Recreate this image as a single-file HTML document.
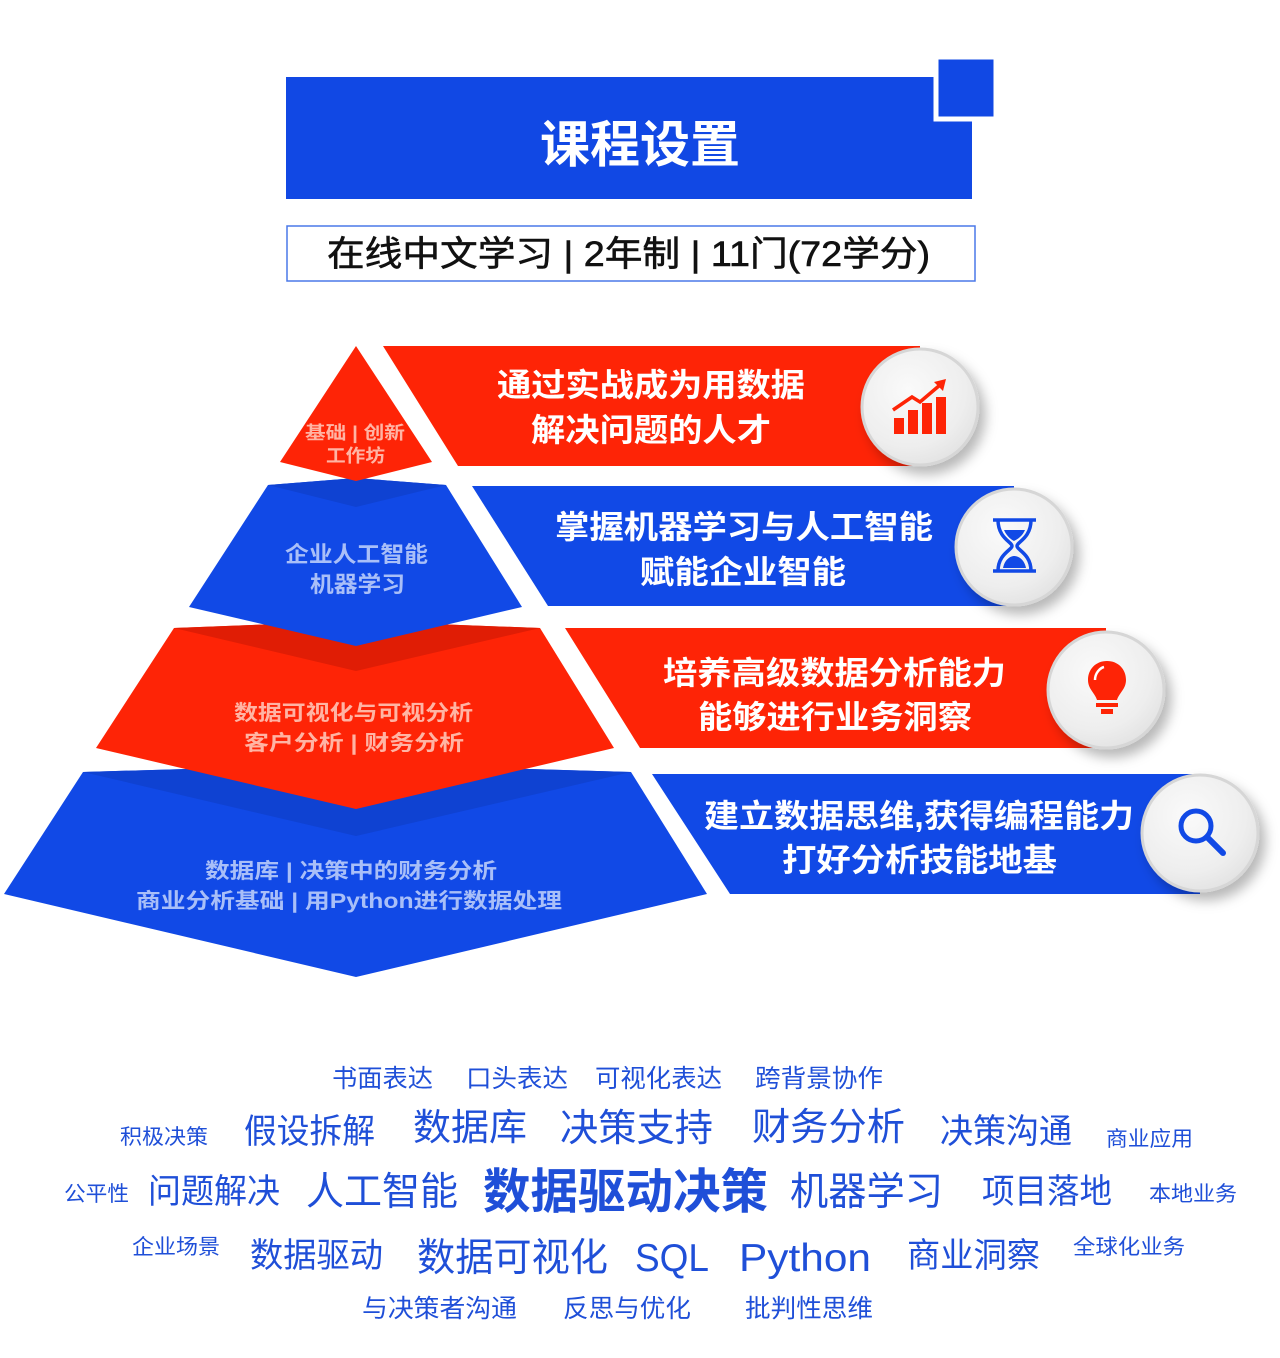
<!DOCTYPE html>
<html><head><meta charset="utf-8"><style>
html,body{margin:0;padding:0;background:#fff;}
svg{display:block;}
text{font-family:"Liberation Sans","Noto Sans CJK SC",sans-serif;}
</style></head><body>
<svg width="1280" height="1358" viewBox="0 0 1280 1358" xmlns="http://www.w3.org/2000/svg">
<defs>
<radialGradient id="cg" cx="40%" cy="35%" r="70%"><stop offset="0" stop-color="#fafafa"/><stop offset="0.7" stop-color="#eeeeee"/><stop offset="1" stop-color="#e2e2e2"/></radialGradient>
<filter id="sh" x="-30%" y="-30%" width="170%" height="170%"><feDropShadow dx="6" dy="8" stdDeviation="6" flood-color="#000" flood-opacity="0.28"/></filter>
</defs>

<!-- Header -->
<rect x="286" y="77" width="686" height="122" fill="#1148e4"/>
<rect x="936" y="57" width="60" height="62" fill="#1148e4" stroke="#fff" stroke-width="5"/>
<text x="640" y="162" text-anchor="middle" font-size="50" font-weight="bold" fill="#fff">课程设置</text>
<rect x="287" y="226" width="688" height="55" fill="#fff" stroke="#4a78e8" stroke-width="1.5"/>
<text x="327" y="266" font-size="35" fill="#111" stroke="#111" stroke-width="0.6" textLength="603" lengthAdjust="spacingAndGlyphs">在线中文学习 | 2年制 | 11门(72学分)</text>

<!-- Pyramid layer 4 (blue) -->
<polygon points="83,772 356,764 631,772 707,894 356,977 4,894" fill="#1149e6"/>
<polygon points="83,772 356,764 631,772 356,836" fill="#0f42d2"/>
<!-- layer 3 red -->
<polygon points="174,628 356,621 540,628 614,748 356,809 96,748" fill="#fe2406"/>
<polygon points="174,628 356,621 540,628 356,671" fill="#e01d05"/>
<!-- layer 2 blue -->
<polygon points="268,485 356,478 446,485 522,607 356,646 189,607" fill="#1149e6"/>
<polygon points="268,485 356,478 446,485 356,507" fill="#0f42d2"/>
<!-- layer 1 red -->
<polygon points="356,346 432,462 356,481 280,462" fill="#fe2406"/>

<g font-weight="bold" lengthAdjust="spacingAndGlyphs">
<text x="305" y="439" font-size="18" fill="#ffb4a4" textLength="100" lengthAdjust="spacingAndGlyphs">基础 | 创新</text>
<text x="326" y="462" font-size="18" fill="#ffb4a4" textLength="59" lengthAdjust="spacingAndGlyphs">工作坊</text>
<text x="285" y="562" font-size="22" fill="#a9bff8" textLength="143" lengthAdjust="spacingAndGlyphs">企业人工智能</text>
<text x="310" y="592" font-size="22" fill="#a9bff8" textLength="95" lengthAdjust="spacingAndGlyphs">机器学习</text>
<text x="234" y="720" font-size="21" fill="#ffb4a4" textLength="239" lengthAdjust="spacingAndGlyphs">数据可视化与可视分析</text>
<text x="244" y="750" font-size="21" fill="#ffb4a4" textLength="220" lengthAdjust="spacingAndGlyphs">客户分析 | 财务分析</text>
<text x="205" y="878" font-size="21" fill="#a9bff8" textLength="292" lengthAdjust="spacingAndGlyphs">数据库 | 决策中的财务分析</text>
<text x="136" y="908" font-size="21" fill="#a9bff8" textLength="426" lengthAdjust="spacingAndGlyphs">商业分析基础 | 用Python进行数据处理</text>
</g>

<!-- Banners -->
<polygon points="383,346 920,346 920,466 458,466" fill="#fe2406"/>
<polygon points="472,486 1014,486 1014,606 548,606" fill="#1149e6"/>
<polygon points="565,628 1106,628 1106,748 640,748" fill="#fe2406"/>
<polygon points="652,774 1200,774 1200,894 730,894" fill="#1149e6"/>

<g font-weight="bold" fill="#fff" font-size="32">
<text x="497" y="396" textLength="308" lengthAdjust="spacingAndGlyphs">通过实战成为用数据</text>
<text x="531" y="441" textLength="240" lengthAdjust="spacingAndGlyphs">解决问题的人才</text>
<text x="555" y="538" textLength="378" lengthAdjust="spacingAndGlyphs">掌握机器学习与人工智能</text>
<text x="640" y="583" textLength="206" lengthAdjust="spacingAndGlyphs">赋能企业智能</text>
<text x="663" y="684" textLength="343" lengthAdjust="spacingAndGlyphs">培养高级数据分析能力</text>
<text x="698" y="728" textLength="274" lengthAdjust="spacingAndGlyphs">能够进行业务洞察</text>
<text x="704" y="827" textLength="430" lengthAdjust="spacingAndGlyphs">建立数据思维,获得编程能力</text>
<text x="782" y="871" textLength="275" lengthAdjust="spacingAndGlyphs">打好分析技能地基</text>
</g>

<!-- Circles -->
<g filter="url(#sh)">
<circle cx="920" cy="407" r="58" fill="url(#cg)" stroke="#d6d6d6" stroke-width="3"/>
<circle cx="1014" cy="547" r="58" fill="url(#cg)" stroke="#d6d6d6" stroke-width="3"/>
<circle cx="1106" cy="690" r="58" fill="url(#cg)" stroke="#d6d6d6" stroke-width="3"/>
<circle cx="1200" cy="833" r="58" fill="url(#cg)" stroke="#d6d6d6" stroke-width="3"/>
</g>

<!-- Icons -->
<g fill="#fe2406">
<rect x="894" y="418" width="10" height="16"/>
<rect x="908" y="410" width="10" height="24"/>
<rect x="922" y="403" width="10" height="31"/>
<rect x="936" y="397" width="10" height="37"/>
<polyline points="893,410 912,397 920,402 940,385" fill="none" stroke="#fe2406" stroke-width="3.5"/>
<polygon points="946,379 934,382 943,391"/>
</g>
<g fill="none" stroke="#1149e6" stroke-width="3.5">
<line x1="993" y1="520" x2="1036" y2="520"/>
<line x1="993" y1="571" x2="1036" y2="571"/>
<path d="M998,520 C998,538 1012,542 1012,546 C1012,550 998,554 998,571 M1031,520 C1031,538 1017,542 1017,546 C1017,550 1031,554 1031,571"/>
</g>
<path d="M1003,568 C1005,558 1012,556 1014,556 C1017,556 1024,558 1026,568 Z" fill="#1149e6"/>
<path d="M1004,530 L1025,530 C1022,537 1016,540 1014,541 C1012,540 1007,537 1004,530 Z" fill="#1149e6"/>
<g fill="#fe2406">
<path d="M1107,661 C1096,661 1088,669 1088,680 C1088,689 1095,693 1097,700 L1117,700 C1119,693 1126,689 1126,680 C1126,669 1118,661 1107,661 Z"/>
<rect x="1096" y="703" width="22" height="4"/>
<rect x="1101" y="709" width="12" height="5"/>
</g>
<path d="M1095,680 C1095,673 1100,668 1104,667" stroke="#fff" stroke-width="2.5" fill="none"/>
<g fill="none" stroke="#1149e6">
<circle cx="1196" cy="826" r="15" stroke-width="5"/>
<line x1="1207" y1="837" x2="1223" y2="853" stroke-width="6" stroke-linecap="round"/>
</g>

<!-- Word cloud -->
<g fill="#1f4fd8">
<text x="332" y="1087" font-size="25" textLength="101" lengthAdjust="spacingAndGlyphs">书面表达</text>
<text x="466" y="1087" font-size="25" textLength="102" lengthAdjust="spacingAndGlyphs">口头表达</text>
<text x="595" y="1087" font-size="25" textLength="127" lengthAdjust="spacingAndGlyphs">可视化表达</text>
<text x="755" y="1087" font-size="25" textLength="128" lengthAdjust="spacingAndGlyphs">跨背景协作</text>

<text x="120" y="1144" font-size="21" textLength="88" lengthAdjust="spacingAndGlyphs">积极决策</text>
<text x="244" y="1143" font-size="34" textLength="131" lengthAdjust="spacingAndGlyphs">假设拆解</text>
<text x="413" y="1140" font-size="37" textLength="114" lengthAdjust="spacingAndGlyphs">数据库</text>
<text x="560" y="1141" font-size="38" textLength="153" lengthAdjust="spacingAndGlyphs">决策支持</text>
<text x="752" y="1140" font-size="38" textLength="153" lengthAdjust="spacingAndGlyphs">财务分析</text>
<text x="940" y="1143" font-size="34" textLength="132" lengthAdjust="spacingAndGlyphs">决策沟通</text>
<text x="1106" y="1146" font-size="21" textLength="87" lengthAdjust="spacingAndGlyphs">商业应用</text>

<text x="64" y="1201" font-size="21" textLength="65" lengthAdjust="spacingAndGlyphs">公平性</text>
<text x="148" y="1203" font-size="34" textLength="132" lengthAdjust="spacingAndGlyphs">问题解决</text>
<text x="306" y="1205" font-size="39" textLength="152" lengthAdjust="spacingAndGlyphs">人工智能</text>
<text x="483" y="1208" font-size="48" font-weight="bold" textLength="285" lengthAdjust="spacingAndGlyphs">数据驱动决策</text>
<text x="790" y="1205" font-size="39" textLength="153" lengthAdjust="spacingAndGlyphs">机器学习</text>
<text x="982" y="1203" font-size="34" textLength="130" lengthAdjust="spacingAndGlyphs">项目落地</text>
<text x="1149" y="1201" font-size="21" textLength="88" lengthAdjust="spacingAndGlyphs">本地业务</text>

<text x="132" y="1254" font-size="21" textLength="88" lengthAdjust="spacingAndGlyphs">企业场景</text>
<text x="250" y="1267" font-size="34" textLength="133" lengthAdjust="spacingAndGlyphs">数据驱动</text>
<text x="417" y="1271" font-size="39" textLength="191" lengthAdjust="spacingAndGlyphs">数据可视化</text>
<text x="635" y="1271" font-size="39" textLength="74" lengthAdjust="spacingAndGlyphs">SQL</text>
<text x="739" y="1271" font-size="39" textLength="132" lengthAdjust="spacingAndGlyphs">Python</text>
<text x="907" y="1267" font-size="34" textLength="133" lengthAdjust="spacingAndGlyphs">商业洞察</text>
<text x="1073" y="1254" font-size="21" textLength="112" lengthAdjust="spacingAndGlyphs">全球化业务</text>

<text x="362" y="1317" font-size="25" textLength="155" lengthAdjust="spacingAndGlyphs">与决策者沟通</text>
<text x="563" y="1317" font-size="25" textLength="128" lengthAdjust="spacingAndGlyphs">反思与优化</text>
<text x="745" y="1317" font-size="25" textLength="128" lengthAdjust="spacingAndGlyphs">批判性思维</text>
</g>
</svg>
</body></html>
